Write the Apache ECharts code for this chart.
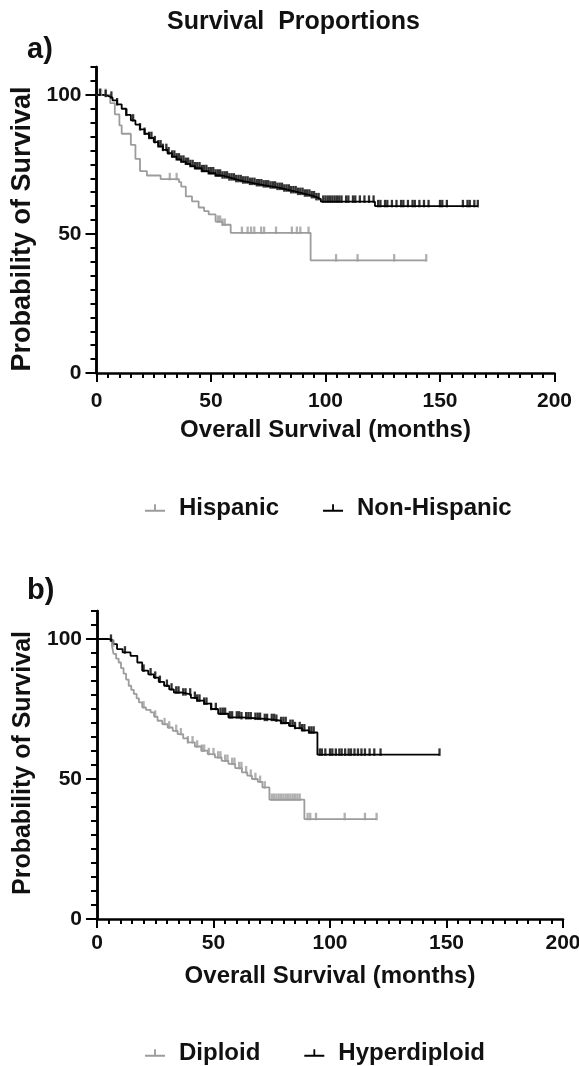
<!DOCTYPE html>
<html><head><meta charset="utf-8">
<script src="https://cdn.jsdelivr.net/npm/echarts@6/dist/echarts.min.js"></script>
<style>html,body{margin:0;padding:0;background:#fff}#c{width:579px;height:1066px}</style>
</head><body><div id="c"></div>
<script>
// ---- data (months, % surviving) ----
const xTicks = [0, 50, 100, 150, 200];
const yTicks = [0, 50, 100];
const legendA = ['Hispanic', 'Non-Hispanic'];
const legendB = ['Diploid', 'Hyperdiploid'];

const hispanicSteps = [[0,100],[6,97],[8,93],[10,89],[11,86],[15,82],[17,77],[19,72.6],[22,71],[28,69.7],[36,68.6],[37,67],[39,63.5],[41.7,61.7],[44.6,59.5],[47,58.2],[49,57],[52,54.4],[55,53.3],[58.6,50.4],[93.5,40.5],[144,40.5]];
const hispanicCensor = [2,4,32,35,53,54,55,56,63.5,66,67.5,68.9,71.9,73.2,78.4,85.3,87.5,89,92.6,104.6,114,130,144];

const nonHispanicSteps = [[0,100],[3,99.6],[5,99],[7,98],[9,96.6],[11,95],[13,92.8],[15,90.8],[17,89.3],[19,87.6],[21,86],[23,84.5],[25,83],[27,81.5],[29,80.2],[31,79],[33,77.8],[35,76.8],[37,76],[39,75.2],[41,74.4],[43,73.6],[46,72.6],[49,71.8],[52,71],[55,70.3],[58,69.6],[61,69],[64,68.5],[67,68],[70,67.5],[73,67.1],[76,66.7],[79,66.2],[82,65.6],[85,65],[88,64.4],[91,63.8],[94,63.2],[96,62.5],[98,61.6],[121.6,60],[166.5,60]];
const nonHispanicCensor = [1.5,4,6.5,9,13,16,19,21,23,24,25.5,27,28,29,30.5,31.5,33,34,35,36,37,38,39,40,41,42,43,44,45,46,47,48,49,50,51,52,53,54,55,56,57,58,59,60,61,62,63,64,65,66,67,68,69,70,71,72,73,74,75,76,77,78,79,80,81,82,83,84,85,86,87,88,89,90,91,92,93,94,95,96,97,99,100,101,102,103,104,105,106,107,109,110,112,113,115,117,119,121,123,124,126,127,129,131,133,134,136,138,139,141,143,145,150,151,153,160,162,163,165,166.5];

const diploidSteps = [[0,100],[6.4,97.6],[7.1,94.7],[8.2,93],[9.3,91.6],[10.3,89.6],[11.4,87.6],[12.5,85.5],[13.6,83.3],[14.7,81.8],[15.8,80.4],[17,78.8],[18,77.4],[19.4,75.6],[21,74.7],[23,73.8],[24.5,72.3],[26,70.8],[28,69.6],[30.3,68.4],[32.5,67.2],[34.6,66],[37,64.5],[39,63.1],[42,61.6],[44.8,60.1],[47.5,58.9],[50.6,57.7],[53.5,56.5],[56.4,55.4],[59.3,53.9],[62.2,52.4],[64.5,51.2],[66.5,50],[69,49],[71,47],[74,42.6],[89,35.7],[120,35.7]];
const diploidCensor = [7,20,25,29,31,34,36,39,41,43,45,46,48,50,52,53,55,56,58,59,61,62,64,66,68,70,72,75,76,77,78,79,80,81,82,83,84,85,86,87,90.4,91.5,94,106.3,115,120];

const hyperdiploidSteps = [[0,100],[5,99.4],[7,98.2],[8.6,96.4],[11,95.2],[14.4,94],[17.3,91.6],[19.4,88.7],[22,87.4],[24.4,86.2],[26.5,84.7],[28.8,83.3],[31,82],[33,80.9],[36,80.2],[40.3,79],[43,78],[46,76.9],[49,75],[52,73.3],[56.4,72],[62,71.7],[67.8,71.5],[72,71.1],[76.5,70.8],[79,70],[82.4,69],[85,68.2],[88,67.4],[91,66.6],[94.6,58.7],[147,58.7]];
const hyperdiploidCensor = [6,12,20,23,25,27,30,32,34,35,37,38,40,42,43,44,46,47,49,51,53,54,55,57,58,60,61,62,64,65,66,68,69,70,72,73,75,76,77,79,80,81,83,84,85,87,88,89,91,92,93,95.6,96.5,98,100,101,102.5,104,105,106.5,108,109,110.5,112,113.5,115,117,119,121.7,147];

// ---- helpers ----
const GREY = '#9c9c9c', BLACK = '#000000';
const FONT = '"Liberation Sans", Arial, sans-serif';
function survAt(steps, t) {
  let y = steps[0][1];
  for (const p of steps) { if (p[0] <= t) y = p[1]; }
  return y;
}
function kmLine(name, steps, color, gi) {
  return { name, type: 'line', step: 'end', data: steps, xAxisIndex: gi, yAxisIndex: gi * 2,
    showSymbol: false, symbol: 'none', lineStyle: { color, width: 1.8 }, itemStyle: { color },
    animation: false, silent: true, z: 2 };
}
function kmCensor(name, steps, times, color, gi) {
  return { name, type: 'scatter', data: times.map(t => [t, survAt(steps, t)]), xAxisIndex: gi, yAxisIndex: gi * 2,
    symbol: 'rect', symbolSize: [2.3, 7.5], symbolOffset: [0, -2.5], itemStyle: { color },
    animation: false, silent: true, z: 3 };
}
const lbl = { color: '#111', fontFamily: FONT, fontWeight: 'bold', fontSize: 21 };
const nameStyle = { color: '#111', fontFamily: FONT, fontWeight: 'bold', fontSize: 24 };
const axLine = { show: true, lineStyle: { color: '#000', width: 2.5 } };

function xAx(gi, margin) {
  return { type: 'value', gridIndex: gi, min: 0, max: 200, interval: 50,
    axisLine: axLine, axisTick: { show: true, length: 9, lineStyle: { color: '#000', width: 2 } },
    minorTick: { show: true, splitNumber: 10, length: 5, lineStyle: { color: '#000', width: 2 } },
    splitLine: { show: false }, minorSplitLine: { show: false },
    axisLabel: Object.assign({ margin, customValues: xTicks }, lbl),
    name: 'Overall Survival (months)', nameLocation: 'middle', nameGap: 45, nameTextStyle: nameStyle };
}
function yAxes(gi) {
  return [
    { type: 'value', gridIndex: gi, min: 0, max: 110, interval: 5,
      axisLine: axLine, axisTick: { show: true, length: 6, lineStyle: { color: '#000', width: 2 } },
      splitLine: { show: false }, axisLabel: { show: false } },
    { type: 'value', gridIndex: gi, min: 0, max: 110, position: 'left',
      axisLine: axLine, axisTick: { show: true, length: 11, customValues: yTicks, lineStyle: { color: '#000', width: 2 } },
      splitLine: { show: false },
      axisLabel: Object.assign({ margin: 15, customValues: yTicks }, lbl) }
  ];
}
const legendIcon = 'path://M0,8h22v2h-22z M10,2h2v6h-2z';
function legend(data, top) {
  return { data, top, left: 140, icon: legendIcon, itemWidth: 20, itemHeight: 9, itemGap: 44,
    selectedMode: false, textStyle: Object.assign({ padding: [0, 0, 0, 9] }, nameStyle) };
}
function yName(cx, cy, size) {
  return { type: 'text', x: cx, y: cy, rotation: Math.PI / 2,
    style: { text: 'Probability of Survival', font: 'bold ' + size + 'px ' + FONT, fill: '#111', align: 'center', verticalAlign: 'middle' } };
}

const chart = echarts.init(document.getElementById('c'), null, { renderer: 'canvas' });
chart.setOption({
  backgroundColor: '#fff',
  animation: false,
  grid: [
    { left: 96.5, top: 67, width: 458, height: 306, outerBoundsMode: 'none', containLabel: false },
    { left: 97, top: 611, width: 466, height: 308, outerBoundsMode: 'none', containLabel: false }
  ],
  xAxis: [xAx(0, 18), xAx(1, 14)],
  yAxis: yAxes(0).concat(yAxes(1)),
  legend: [legend(legendA, 491), legend(legendB, 1036)],
  graphic: [
    { type: 'text', left: 167, top: 10, style: { text: 'Survival  Proportions', font: 'bold 25px ' + FONT, fill: '#111' } },
    { type: 'text', left: 27, top: 35, style: { text: 'a)', font: 'bold 29px ' + FONT, fill: '#111' } },
    { type: 'text', left: 27, top: 576, style: { text: 'b)', font: 'bold 29px ' + FONT, fill: '#111' } },
    yName(23, 229, 27),
    yName(23, 763, 25)
  ],
  series: [
    kmLine('Hispanic', hispanicSteps, GREY, 0),
    kmLine('Non-Hispanic', nonHispanicSteps, BLACK, 0),
    kmCensor('Hispanic', hispanicSteps, hispanicCensor, GREY, 0),
    kmCensor('Non-Hispanic', nonHispanicSteps, nonHispanicCensor, BLACK, 0),
    kmLine('Diploid', diploidSteps, GREY, 1),
    kmLine('Hyperdiploid', hyperdiploidSteps, BLACK, 1),
    kmCensor('Diploid', diploidSteps, diploidCensor, GREY, 1),
    kmCensor('Hyperdiploid', hyperdiploidSteps, hyperdiploidCensor, BLACK, 1)
  ]
});
</script></body></html>
